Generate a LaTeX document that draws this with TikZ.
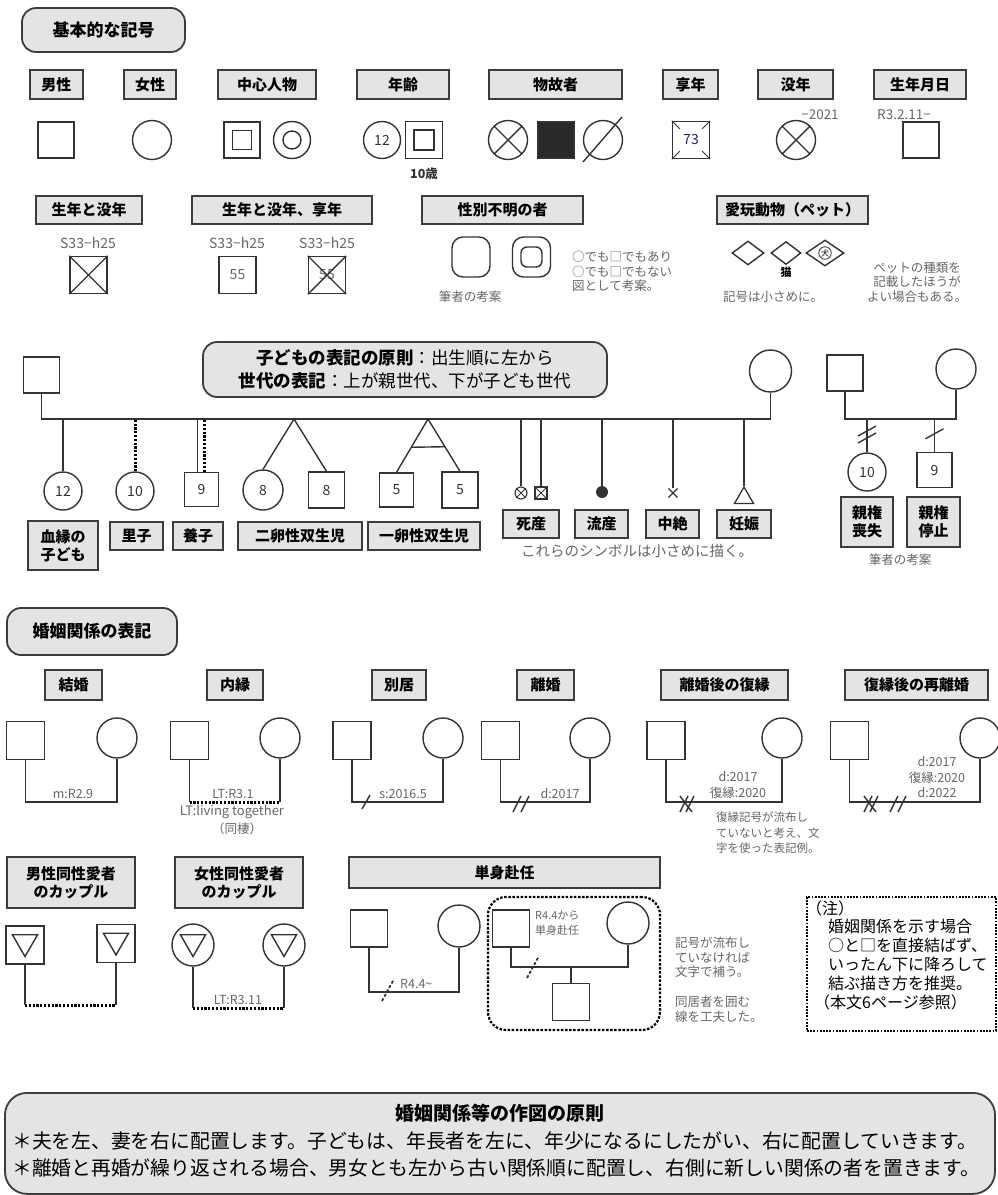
\documentclass[tikz,border=0pt]{standalone}
\usepackage{fontspec}
\setmainfont{Noto Sans CJK JP}
\usepackage{xcolor}
\usepackage{tikz}
\usetikzlibrary{positioning,shapes.geometric,shapes.misc,calc}
\definecolor{ink}{HTML}{333333}
\definecolor{boxline}{HTML}{3C3C3C}
\definecolor{boxfill}{HTML}{E4E4E4}
\definecolor{memotext}{HTML}{666666}
\newcommand{\fsz}[2]{\fontsize{#1}{#2}\selectfont}
\tikzset{
  lab/.style={draw=boxline,fill=boxfill,line width=1.6pt,inner sep=0pt,align=center,minimum height=29,font=\bfseries\fsz{15}{18}},
  hdr/.style={draw=boxline,fill=boxfill,line width=1.8pt,rounded corners=14pt,inner sep=0pt,align=center},
  male/.style={draw=ink,line width=1.4pt,rectangle,minimum size=36,inner sep=0pt,font=\fsz{14}{16},text=ink},
  female/.style={draw=ink,line width=1.4pt,circle,minimum size=39,inner sep=0pt,font=\fsz{14}{16},text=ink},
  unk/.style={draw=ink,line width=1.4pt,rectangle,rounded corners=11pt,minimum width=38,minimum height=40,inner sep=0pt},
  pet/.style={draw=ink,line width=1.4pt,diamond,inner sep=0pt,minimum width=32,minimum height=24},
  tri/.style={draw=ink,line width=1.4pt,regular polygon,regular polygon sides=3,inner sep=0pt,minimum size=29},
  kin/.style={draw=ink,line width=1.4pt},
  kindot/.style={draw=black,line width=3pt,dash pattern=on 2.2pt off 1.6pt},
  tag/.style={font=\fsz{12.5}{15},text=memotext,inner sep=0pt},
  memo/.style={font=\fsz{12.5}{14.5},text=memotext,align=left,inner sep=0pt},
  hcut/.pic={\draw[kin] (-4,7) -- (4,-7);},
  hdcut/.pic={\draw[kin] (-9,8) -- (-1,-8) (-1,8) -- (7,-8);},
  hxcut/.pic={\draw[kin] (-10,8) -- (-2,-8) (-4,8) -- (4,-8) (-10,-8) -- (2,8);},
  vcut/.pic={\draw[kin] (-9,5) -- (9,-5);},
  vdcut/.pic={\draw[kin] (-9,2) -- (9,-8) (-9,9) -- (9,-1);},
  tcut/.pic={\draw[kin,line width=1.8pt,dash pattern=on 3pt off 2pt] (-6,11) -- (6,-11);}
}
\begin{document}
\begin{tikzpicture}[x=1pt,y=-1pt]
  \useasboundingbox[fill=white] (0,0) rectangle (998,1195);
  % basic symbols
  \node[hdr,minimum width=163,minimum height=44,font=\bfseries\fsz{17}{20}] (secBasic) at (103.5,30) {基本的な記号};
  \node[lab,minimum width=53] (lbMale) at (56.5,84.5) {男性};
  \node[lab,minimum width=52] (lbFem) at (150,84.5) {女性};
  \node[lab,minimum width=98] (lbEgo) at (267,84.5) {中心人物};
  \node[lab,minimum width=92] (lbAge) at (403,84.5) {年齢};
  \node[lab,minimum width=133] (lbDead) at (555.5,84.5) {物故者};
  \node[lab,minimum width=55] (lbKyo) at (690.5,84.5) {享年};
  \node[lab,minimum width=75] (lbDied) at (795.5,84.5) {没年};
  \node[lab,minimum width=92] (lbBorn) at (920,84.5) {生年月日};
  \node[male] (sMale) at (56,140) {};
  \node[female] (sFem) at (152,140) {};
  \node[male] (sEgoM) at (242,140) {};
  \node[male,minimum size=19] (sEgoMin) at (sEgoM) {};
  \node[female,minimum size=37] (sEgoF) at (292,140) {};
  \node[female,minimum size=18] (sEgoFin) at (sEgoF) {};
  \node[female,minimum size=37] (sAgeF) at (382,140) {12};
  \node[male,minimum size=37] (sAgeM) at (424,140) {};
  \node[male,minimum size=20] (sAgeMin) at (sAgeM) {};
  \node[font=\bfseries\fsz{12.5}{14},text=ink,below=5pt of sAgeM] (tAge) {10歳};
  \node[female] (sDeadF) at (508,140) {};
  \draw[kin] (sDeadF.45) -- (sDeadF.225) (sDeadF.135) -- (sDeadF.315);
  \node[male,fill=ink!80!black] (sDeadM) at (556,140) {};
  \node[female] (sDeadU) at (603,140) {};
  \draw[kin] ($(sDeadU.center)+(-20,22)$) -- ($(sDeadU.center)+(19,-23)$);
  \node[male,minimum size=37,text=ink!70!blue] (sKyo) at (691,140) {73};
  \foreach \a/\dx/\dy in {north west/8/8,north east/-8/8,south west/8/-8,south east/-8/-8}
    \draw[kin,line width=1pt] (sKyo.\a) -- ++(\dx,\dy);
  \node[female] (sDied) at (796,140) {};
  \draw[kin] (sDied.45) -- (sDied.225) (sDied.135) -- (sDied.315);
  \node[tag,font=\fsz{13.5}{15}] (tDied) at (820,115) {−2021};
  \node[male] (sBorn) at (921,140) {};
  \node[tag,font=\fsz{13.5}{15}] (tBorn) at (904,115) {R3.2.11−};
  % second row
  \node[lab,minimum width=106,minimum height=28] (lbLife) at (89,210) {生年と没年};
  \node[lab,minimum width=180,minimum height=28] (lbLifeK) at (282,210) {生年と没年、享年};
  \node[lab,minimum width=161,minimum height=28] (lbUnk) at (502.5,210) {性別不明の者};
  \node[lab,minimum width=151,minimum height=28] (lbPet) at (792.5,210) {愛玩動物（ペット）};
  \node[tag,font=\fsz{14}{16}] (tLife1) at (88,243) {S33−h25};
  \node[tag,font=\fsz{14}{16}] (tLife2) at (237,243) {S33−h25};
  \node[tag,font=\fsz{14}{16}] (tLife3) at (327,243) {S33−h25};
  \node[male,minimum size=37] (sLife1) at (88.5,275) {};
  \draw[kin] (sLife1.north west) -- (sLife1.south east) (sLife1.north east) -- (sLife1.south west);
  \node[male,minimum size=37,text=memotext] (sLife2) at (237.5,275) {55};
  \node[male,minimum size=37,text=memotext] (sLife3) at (327,275) {55};
  \draw[kin] (sLife3.north west) -- (sLife3.south east) (sLife3.north east) -- (sLife3.south west);
  \node[unk] (sUnkA) at (471,257) {};
  \node[unk] (sUnkB) at (531.5,257) {};
  \node[unk,minimum width=21,minimum height=20,rounded corners=6pt] (sUnkBin) at (sUnkB) {};
  \node[memo] (tUnkNote) at (470,297) {筆者の考案};
  \node[memo,anchor=north west] (tUnkMemo) at (572,251) {○でも□でもあり\\○でも□でもない\\図として考案。};
  \node[pet] (sPetA) at (748,253) {};
  \node[pet,minimum width=30,minimum height=23] (sPetB) at (786,253) {};
  \node[pet,minimum width=38,minimum height=26] (sPetC) at (825,253) {};
  \node[draw=ink,circle,line width=0.8pt,inner sep=0.6pt,font=\fsz{8}{9}] (sPetDog) at (sPetC) {犬};
  \node[font=\bfseries\fsz{11}{12}] (tPetCat) at (786,272) {猫};
  \node[memo] (tPetSmall) at (773,297) {記号は小さめに。};
  \node[memo,align=center] (tPetNote) at (917,282) {ペットの種類を\\記載したほうが\\よい場合もある。};
  % children
  \node[hdr,minimum width=404,minimum height=55,font=\fsz{17.5}{23}] (secChild) at (405,369.5)
    {\textbf{子どもの表記の原則}：出生順に左から\\\textbf{世代の表記}：上が親世代、下が子ども世代};
  \node[male] (pa) at (41.5,375) {};
  \node[female,minimum size=42] (ma) at (770.5,371) {};
  \coordinate (sib) at (405,419);
  \draw[kin] (pa.south) |- (sib) -| (ma.south);
  \node[female,minimum size=38] (c1) at (63,491) {12};
  \node[female,minimum size=38] (c2) at (135,491) {10};
  \node[male,minimum size=34] (c3) at (201.5,489.5) {9};
  \node[female,minimum size=40] (c4) at (263,490) {8};
  \node[male,minimum size=36] (c5) at (326.5,490) {8};
  \node[male,minimum size=34] (c6) at (396.5,490) {5};
  \node[male,minimum size=36] (c7) at (460,490) {5};
  \draw[kin] (c1.north) -- (c1.north |- sib);
  \draw[kindot] (c2.north) -- (c2.north |- sib);
  \draw[kin] ([xshift=-4]c3.north) -- ([xshift=-4]c3.north |- sib);
  \draw[kindot] ([xshift=3]c3.north) -- ([xshift=3]c3.north |- sib);
  \coordinate (tw2) at (294,419);
  \draw[kin] (c4.north) -- (tw2) -- (c5.north);
  \coordinate (tw1) at (428,419);
  \draw[kin] (c6.north) -- (tw1) -- (c7.north);
  \draw[kin] ($(tw1)!0.53!(c6.north)$) -- ($(tw1)!0.53!(c7.north)$);
  \node[female,minimum size=12,line width=1.1pt] (s1) at (521,493) {};
  \draw[kin,line width=1pt] (s1.45) -- (s1.225) (s1.135) -- (s1.315);
  \node[male,minimum size=12,line width=1.1pt] (s2) at (541,493) {};
  \draw[kin,line width=1pt] (s2.north west) -- (s2.south east) (s2.north east) -- (s2.south west);
  \node[circle,fill=ink,minimum size=12,inner sep=0pt] (s3) at (602,492) {};
  \node[cross out,draw=ink,line width=1.2pt,minimum size=8,inner sep=0pt] (s4) at (673,493) {};
  \node[tri,minimum size=22,line width=1.3pt] (s5) at (744,498) {};
  \foreach \s in {s1,s2,s3,s4,s5}
    \draw[kin] (\s.north) -- (\s.north |- sib);
  \node[lab,minimum width=70,minimum height=49] (lbBlood) at (63,545.5) {血縁の\\子ども};
  \node[lab,minimum width=53,minimum height=28] (lbFoster) at (136.5,536) {里子};
  \node[lab,minimum width=50,minimum height=28] (lbAdopt) at (198,536) {養子};
  \node[lab,minimum width=124,minimum height=28] (lbTwin2) at (300,536) {二卵性双生児};
  \node[lab,minimum width=112,minimum height=28] (lbTwin1) at (424,536) {一卵性双生児};
  \node[lab,minimum width=56,minimum height=28] (lbStill) at (531,524) {死産};
  \node[lab,minimum width=53,minimum height=28] (lbMisc) at (601.5,524) {流産};
  \node[lab,minimum width=53,minimum height=28] (lbAbort) at (672.5,524) {中絶};
  \node[lab,minimum width=54,minimum height=28] (lbPreg) at (744,524) {妊娠};
  \node[memo,font=\fsz{14.5}{16}] (tSmall) at (637,551) {これらのシンボルは小さめに描く。};
  \node[male] (pb) at (845,373) {};
  \node[female,minimum size=40] (mb) at (956,369) {};
  \coordinate (sib2) at (900,419);
  \draw[kin] (pb.south) |- (sib2) -| (mb.south);
  \node[female,minimum size=38] (c8) at (867,472) {10};
  \node[male,minimum size=35] (c9) at (934.5,470) {9};
  \draw[kin] (c8.north) -- (c8.north |- sib2);
  \draw[kin] (c9.north) -- (c9.north |- sib2);
  \pic at ($(c8.north |- sib2)!0.45!(c8.north)$) {vdcut};
  \pic at ($(c9.north |- sib2)!0.45!(c9.north)$) {vcut};
  \node[lab,minimum width=52,minimum height=50] (lbLoss) at (867,522) {親権\\喪失};
  \node[lab,minimum width=53,minimum height=50] (lbStop) at (933.5,522) {親権\\停止};
  \node[memo] (tIdea) at (900,560) {筆者の考案};
  % marriage
  \node[hdr,minimum width=170,minimum height=47,font=\bfseries\fsz{17}{20}] (secMarr) at (92,631.5) {婚姻関係の表記};
  \node[lab,minimum width=57,minimum height=30] (lbMarr) at (73.5,685) {結婚};
  \node[lab,minimum width=56,minimum height=30] (lbLT) at (235,685) {内縁};
  \node[lab,minimum width=54,minimum height=30] (lbSep) at (399,685) {別居};
  \node[lab,minimum width=57,minimum height=30] (lbDiv) at (545.5,685) {離婚};
  \node[lab,minimum width=127,minimum height=30] (lbRe) at (724.5,685) {離婚後の復縁};
  \node[lab,minimum width=143,minimum height=30] (lbReDiv) at (916.5,685) {復縁後の再離婚};
  \node[male,minimum size=38] (m1) at (25.5,740.5) {};
  \node[female,minimum size=40] (w1) at (117,738) {};
  \coordinate (u1) at (71,802);
  \draw[kin] (m1.south) |- (u1) -| (w1.south);
  \node[tag,anchor=south] (tM1) at (73,799) {m:R2.9};
  \node[male,minimum size=38] (m2) at (189.5,740.5) {};
  \node[female,minimum size=40] (w2) at (280,738) {};
  \coordinate (u2) at (234,802);
  \draw[kin] (m2.south) -- (m2.south |- u2) (w2.south) -- (w2.south |- u2);
  \draw[kindot] (m2.south |- u2) -- (w2.south |- u2);
  \node[tag,anchor=south] (tM2) at (233,799) {LT:R3.1};
  \node[tag,font=\fsz{13}{15}] (tLT) at (232,812) {LT:living together};
  \node[memo] (tLTjp) at (237,829) {（同棲）};
  \node[male,minimum size=38] (m3) at (352,740.5) {};
  \node[female,minimum size=40] (w3) at (443,738) {};
  \coordinate (u3) at (397,802);
  \draw[kin] (m3.south) |- (u3) -| (w3.south);
  \pic at (366,802) {hcut};
  \node[tag,anchor=south] (tM3) at (403,799) {s:2016.5};
  \node[male,minimum size=38] (m4) at (500.5,740.5) {};
  \node[female,minimum size=40] (w4) at (590,738) {};
  \coordinate (u4) at (545,802);
  \draw[kin] (m4.south) |- (u4) -| (w4.south);
  \pic at (522,804) {hdcut};
  \node[tag,anchor=south] (tM4) at (560,799) {d:2017};
  \node[male,minimum size=38] (m5) at (666,740.5) {};
  \node[female,minimum size=40] (w5) at (782,738) {};
  \coordinate (u5) at (724,802);
  \draw[kin] (m5.south) |- (u5) -| (w5.south);
  \pic at (690,804) {hxcut};
  \node[tag] (tM5a) at (738,777) {d:2017};
  \node[tag] (tM5b) at (738,793) {復縁:2020};
  \node[memo,font=\fsz{11.5}{15.5},anchor=north west] (tReMemo) at (716,812) {復縁記号が流布し\\ていないと考え、文\\字を使った表記例。};
  \node[male,minimum size=38] (m6) at (849.5,740.5) {};
  \node[female,minimum size=40] (w6) at (980,738) {};
  \coordinate (u6) at (916,802);
  \draw[kin] (m6.south) |- (u6) -| (w6.south);
  \pic at (874,804) {hxcut};
  \pic at (899,804) {hdcut};
  \node[tag] (tM6a) at (937,762) {d:2017};
  \node[tag] (tM6b) at (937,778) {復縁:2020};
  \node[tag] (tM6c) at (937,793) {d:2022};
  % same-sex couples and living apart
  \node[lab,minimum width=128,minimum height=51] (lbGay) at (71,882.5) {男性同性愛者\\のカップル};
  \node[lab,minimum width=128,minimum height=51] (lbLes) at (239,882.5) {女性同性愛者\\のカップル};
  \node[lab,minimum width=311,minimum height=31] (lbApart) at (504.5,872.5) {単身赴任};
  \node[male,minimum size=38] (g1) at (25,945) {};
  \node[male,minimum size=38] (g2) at (116,943.5) {};
  \node[tri,shape border rotate=180] (g1t) at ($(g1)+(0,-3)$) {};
  \node[tri,shape border rotate=180] (g2t) at ($(g2)+(0,-3)$) {};
  \coordinate (u7) at (70,1005);
  \draw[kin] (g1.south) -- (g1.south |- u7) (g2.south) -- (g2.south |- u7);
  \draw[kindot] (g1.south |- u7) -- (g2.south |- u7);
  \node[female,minimum size=42] (l1) at (193,945) {};
  \node[female,minimum size=42] (l2) at (284,945) {};
  \node[tri,shape border rotate=180] (l1t) at ($(l1)+(0,-3)$) {};
  \node[tri,shape border rotate=180] (l2t) at ($(l2)+(0,-3)$) {};
  \coordinate (u8) at (238,1008);
  \draw[kin] (l1.south) -- (l1.south |- u8) (l2.south) -- (l2.south |- u8);
  \draw[kindot] (l1.south |- u8) -- (l2.south |- u8);
  \node[tag,anchor=south] (tM8) at (238,1005) {LT:R3.11};
  \node[male,minimum size=37] (m7) at (369,928.5) {};
  \node[female,minimum size=42] (w7) at (459,926) {};
  \coordinate (u9) at (414,992);
  \draw[kin] (m7.south) |- (u9) -| (w7.south);
  \pic at (388,990) {tcut};
  \node[tag,anchor=south west] (tM7) at (400,989) {R4.4\textasciitilde};
  \node[draw=black,line width=2.2pt,dash pattern=on 2.5pt off 1.6pt,rounded corners=18pt,minimum width=172,minimum height=133] (coRes) at (574,963.5) {};
  \node[male,minimum size=37,fill=white] (m8) at (511,928.5) {};
  \node[female,minimum size=42] (w8) at (628,923) {};
  \coordinate (u10) at (570,967);
  \draw[kin] (m8.south) |- (u10) -| (w8.south);
  \node[male,minimum size=37] (k8) at (571,1002) {};
  \draw[kin] (k8.north) -- (k8.north |- u10);
  \pic at (533,967) {tcut};
  \node[memo,font=\fsz{11}{15},anchor=north west] (tApart) at (535,911) {R4.4から\\単身赴任};
  \node[memo,anchor=north west] (tApartA) at (675,937) {記号が流布し\\ていなければ\\文字で補う。};
  \node[memo,anchor=north west] (tApartB) at (675,996) {同居者を囲む\\線を工夫した。};
  % note box
  \node[draw=black,line width=2.2pt,dash pattern=on 1.8pt off 1.4pt,minimum width=189,minimum height=134] (noteBox) at (901.5,964) {};
  \node[anchor=west,font=\fsz{16}{19},inner sep=0pt] (tNoteHd) at (806,908) {（注）};
  \foreach \yy/\txt [count=\i] in {926/婚姻関係を示す場合,945/○と□を直接結ばず、,964/いったん下に降ろして,983/結ぶ描き方を推奨。}
    \node[anchor=west,font=\fsz{16}{19},inner sep=0pt] (tNote\i) at (828,\yy) {\txt};
  \node[anchor=west,font=\fsz{16}{19},inner sep=0pt] (tNoteRef) at (814,1002) {（本文6ページ参照）};
  % drawing rules
  \node[hdr,rounded corners=22pt,minimum width=990,minimum height=101,anchor=north] (secRule) at (500,1092) {};
  \node[font=\bfseries\fsz{19}{22}] (ruleTtl) at (500,1113) {婚姻関係等の作図の原則};
  \node[anchor=west,font=\fsz{19.8}{22},inner sep=0pt] (rule1) at (12,1141) {＊夫を左、妻を右に配置します。子どもは、年長者を左に、年少になるにしたがい、右に配置していきます。};
  \node[anchor=west,font=\fsz{19.8}{22},inner sep=0pt] (rule2) at (12,1168) {＊離婚と再婚が繰り返される場合、男女とも左から古い関係順に配置し、右側に新しい関係の者を置きます。};
\end{tikzpicture}
\end{document}
